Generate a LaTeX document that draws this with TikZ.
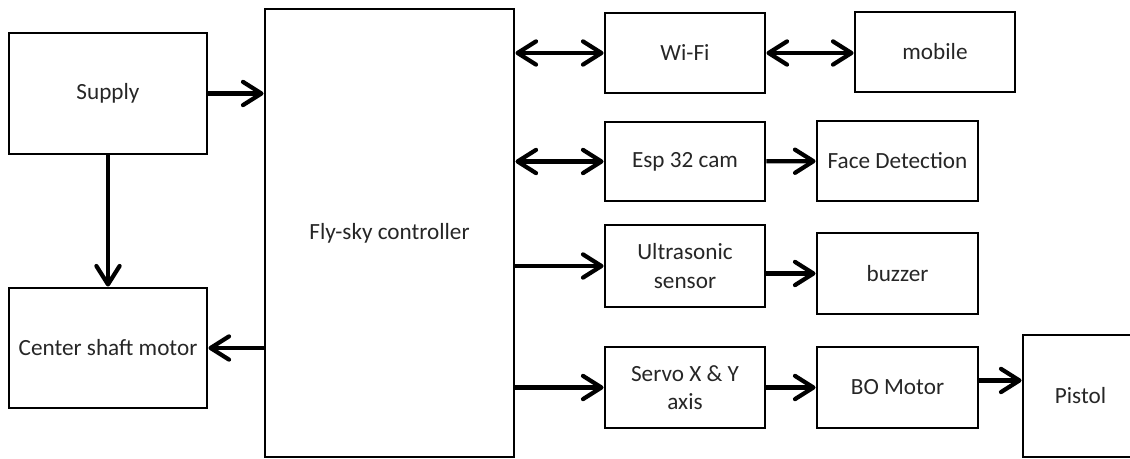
\documentclass[tikz,border=0pt]{standalone}
\usepackage{fontspec}
\setmainfont{Carlito}
\usetikzlibrary{arrows.meta}
\definecolor{boxtext}{RGB}{38,38,38}
\begin{document}
\begin{tikzpicture}[x=0.025cm, y=-0.025cm]
            \tikzstyle{block} = [draw, line width=2.1pt, rectangle, inner sep=0pt,
                text=boxtext, align=center, font=\fontsize{16.5}{20}\selectfont]
            \tikzstyle{link} = [line width=3pt,
                -{Straight Barb[length=0.46cm, width=0.58cm, round]}]
            \tikzstyle{duplex} = [line width=3pt,
                {Straight Barb[length=0.46cm, width=0.58cm, round]}-{Straight Barb[length=0.46cm, width=0.58cm, round]}]
            \useasboundingbox (0, 0) rectangle (1130, 459);

            \node[block, minimum width=198*0.025cm, minimum height=121*0.025cm] (supply) at (108, 93.5) {Supply};
            \node[block, minimum width=198*0.025cm, minimum height=120*0.025cm] (motor) at (108, 348) {Center shaft motor};
            \node[block, minimum width=249*0.025cm, minimum height=448*0.025cm] (ctrl) at (389.5, 233) {Fly-sky controller};

            \node[block, minimum width=160*0.025cm, minimum height=80*0.025cm] (wifi) at (685, 53) {Wi-Fi};
            \node[block, minimum width=160*0.025cm, minimum height=80*0.025cm] (mobile) at (935, 52) {mobile};
            \node[block, minimum width=160*0.025cm, minimum height=79*0.025cm] (esp) at (685, 161.5) {Esp 32 cam};
            \node[block, minimum width=161*0.025cm, minimum height=80*0.025cm] (face) at (897.5, 161) {Face Detection};
            \node[block, minimum width=160*0.025cm, minimum height=82*0.025cm] (ultra) at (685, 266) {Ultrasonic\\sensor};
            \node[block, minimum width=161*0.025cm, minimum height=81*0.025cm] (buzzer) at (897.5, 273.5) {buzzer};
            \node[block, minimum width=160*0.025cm, minimum height=81*0.025cm] (servo) at (685, 387.5) {Servo X \& Y\\axis};
            \node[block, minimum width=161*0.025cm, minimum height=81*0.025cm] (bo) at (897.5, 387.5) {BO Motor};
            \node[block, minimum width=115*0.025cm, minimum height=122*0.025cm] (pistol) at (1080.5, 396) {Pistol};

            \draw[link] (supply) -- (supply -| ctrl.west);
            \draw[link] (supply) -- (motor);
            \draw[link] (motor -| ctrl.west) -- (motor);

            \draw[duplex] (wifi -| ctrl.east) -- (wifi);
            \draw[duplex] (wifi) -- (wifi -| mobile.west);
            \draw[duplex] (esp -| ctrl.east) -- (esp);
            \draw[link] (esp) -- (face);
            \draw[link] (ultra -| ctrl.east) -- (ultra);
            \draw[link] (buzzer -| ultra.east) -- (buzzer);
            \draw[link] (servo -| ctrl.east) -- (servo);
            \draw[link] (servo) -- (bo);
            \coordinate (bopt) at ([yshift=5pt]bo.east);
            \draw[link] (bopt) -- (bopt -| pistol.west);
        \end{tikzpicture}
\end{document}
